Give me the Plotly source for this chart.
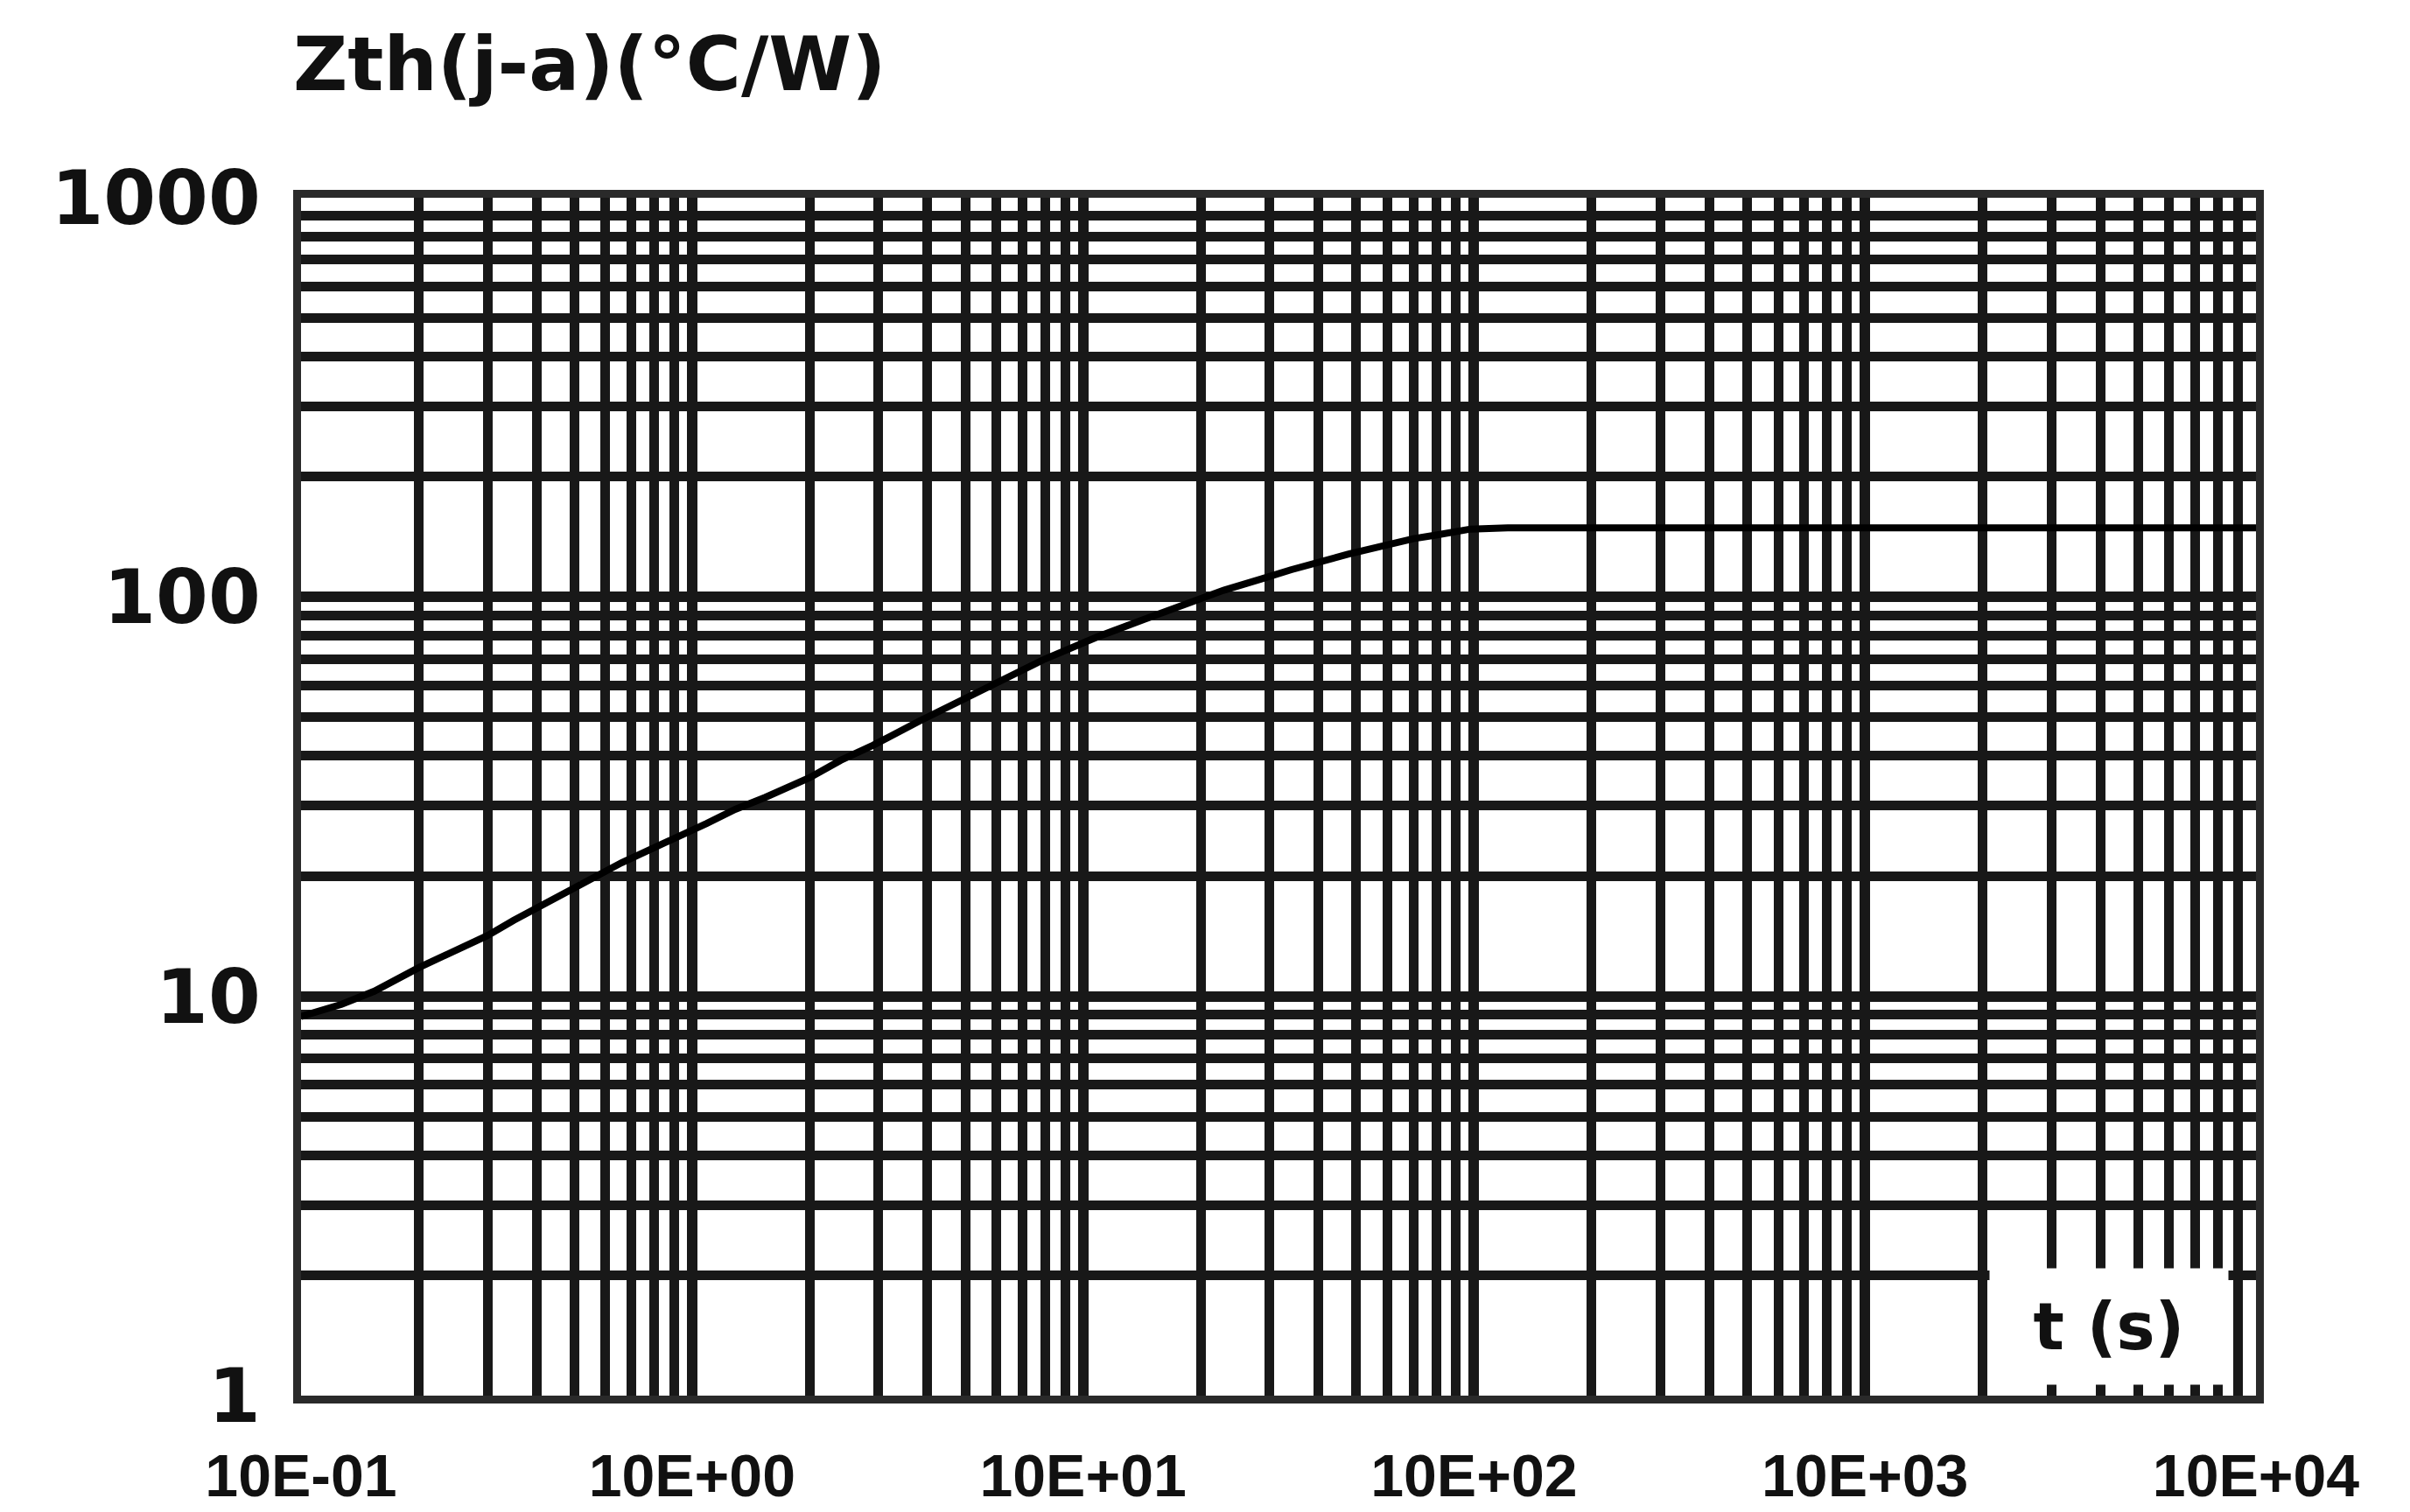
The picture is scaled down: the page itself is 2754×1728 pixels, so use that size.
import plotly.graph_objects as go

# ---- data ----
t_s = [0.1, 0.127, 0.154, 0.2, 0.26, 0.3, 0.35, 0.42, 0.52, 0.66, 1.09, 1.29, 1.54, 2.0,
       2.4, 2.9, 3.8, 4.8, 5.6, 8.0, 10.9, 14.3, 22.9, 28.6, 34.0, 47.6, 58.5, 70.0, 80.0,
       98.0, 122.0, 200.0, 500.0, 1000.0, 10000.0]
zth = [8.9, 9.55, 10.3, 11.8, 13.3, 14.2, 15.5, 17.0, 19.0, 21.6, 27.1, 29.4, 31.5, 35.3,
       39.0, 42.5, 48.8, 54.3, 58.9, 70.0, 79.5, 87.9, 104.0, 111.0, 117.0, 128.0, 135.0, 140.0,
       143.0, 148.0, 149.0, 149.0, 149.0, 149.0, 149.0]

x_major = [0.1, 1, 10, 100, 1000, 10000]
x_labels = ["10E-01", "10E+00", "10E+01", "10E+02", "10E+03", "10E+04"]
y_major = [1, 10, 100, 1000]
y_labels = ["1", "10", "100", "1000"]
minor_mult = [2, 3, 4, 5, 6, 7, 8, 9]

x_minor = [m * d for d in x_major[:-1] for m in minor_mult]
y_minor = [m * d for d in y_major[:-1] for m in minor_mult]

GRID = "#181818"

fig = go.Figure()
fig.add_trace(go.Scatter(x=t_s, y=zth, mode="lines",
                         line=dict(color="black", width=8), showlegend=False))

fig.update_layout(
    width=2754, height=1728,
    margin=dict(l=336, r=184, t=218, b=123),
    paper_bgcolor="white", plot_bgcolor="white",
    showlegend=False,
)

fig.update_xaxes(
    type="log", range=[-1, 4],
    tickvals=x_major, ticktext=x_labels, ticks="",
    tickfont=dict(family="Liberation Sans", size=68, color="#111", weight="bold"),
    ticklabelstandoff=24,
    showgrid=True, gridcolor=GRID, gridwidth=12,
    minor=dict(tickvals=x_minor, showgrid=True, gridcolor=GRID, gridwidth=11, ticks=""),
    showline=True, mirror=True, linecolor="#2a2a2a", linewidth=9,
    zeroline=False,
)
fig.update_yaxes(
    type="log", range=[0, 3],
    tickvals=y_major, ticktext=y_labels, ticks="",
    tickfont=dict(family="DejaVu Sans", size=86, color="#111", weight="bold"),
    ticklabelstandoff=20,
    showgrid=True, gridcolor=GRID, gridwidth=12,
    minor=dict(tickvals=y_minor, showgrid=True, gridcolor=GRID, gridwidth=11, ticks=""),
    showline=True, mirror=True, linecolor="#2a2a2a", linewidth=9,
    zeroline=False,
)

fig.add_annotation(
    text="Zth(j-a)(°C/W)", xref="paper", yref="paper", x=-0.005, y=1.112,
    xanchor="left", yanchor="middle", showarrow=False,
    font=dict(family="DejaVu Sans", size=86, color="#111", weight="bold"),
)
fig.add_annotation(
    text="t (s)", xref="paper", yref="paper", x=0.925, y=0.058,
    xanchor="center", yanchor="middle", showarrow=False,
    width=272, height=132, borderpad=0, bgcolor="white",
    font=dict(family="DejaVu Sans", size=74, color="#111", weight="bold"),
)

fig.write_html("out.html")
